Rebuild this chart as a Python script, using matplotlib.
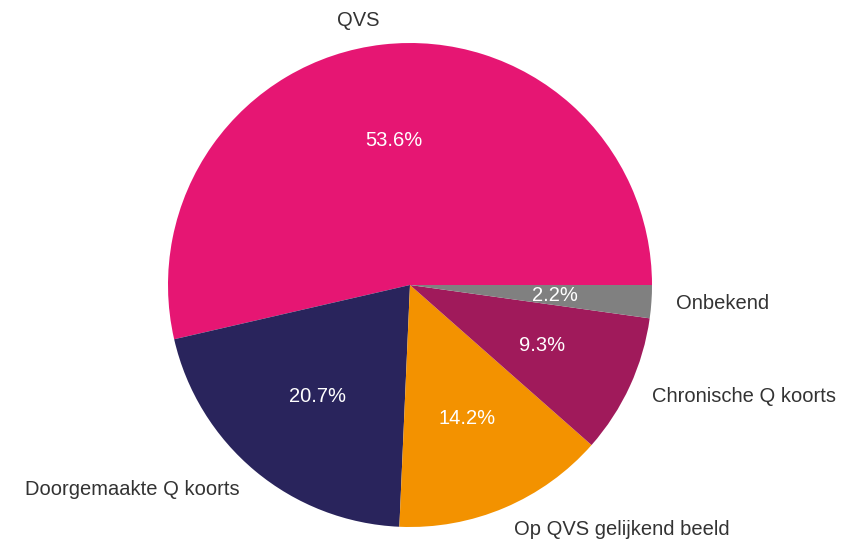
import matplotlib
matplotlib.use('Agg')
import matplotlib.pyplot as plt

labels = ['QVS', 'Doorgemaakte Q koorts', 'Op QVS gelijkend beeld', 'Chronische Q koorts', 'Onbekend']
values = [53.6, 20.7, 14.2, 9.3, 2.2]
colors = ['#E61673', '#29245C', '#F39200', '#A01A5B', '#808080']

plt.rcParams['font.family'] = ['Liberation Sans', 'DejaVu Sans']

fig = plt.figure(figsize=(8.48, 5.4), dpi=100)
ax = fig.add_axes([168 / 848, 13 / 540, 484 / 848, 484 / 540])

wedges, texts, autotexts = ax.pie(values, labels=labels, colors=colors, autopct='%1.1f%%',
                                  startangle=0, counterclock=True, labeldistance=1.1,
                                  pctdistance=0.6,
                                  textprops={'fontsize': 14.5, 'color': '#333333'})
for t in autotexts:
    t.set_color('white')
ax.set_xlim(-1, 1)
ax.set_ylim(-1, 1)
ax.set_aspect('equal')

fig.savefig('out.png', dpi=100)
